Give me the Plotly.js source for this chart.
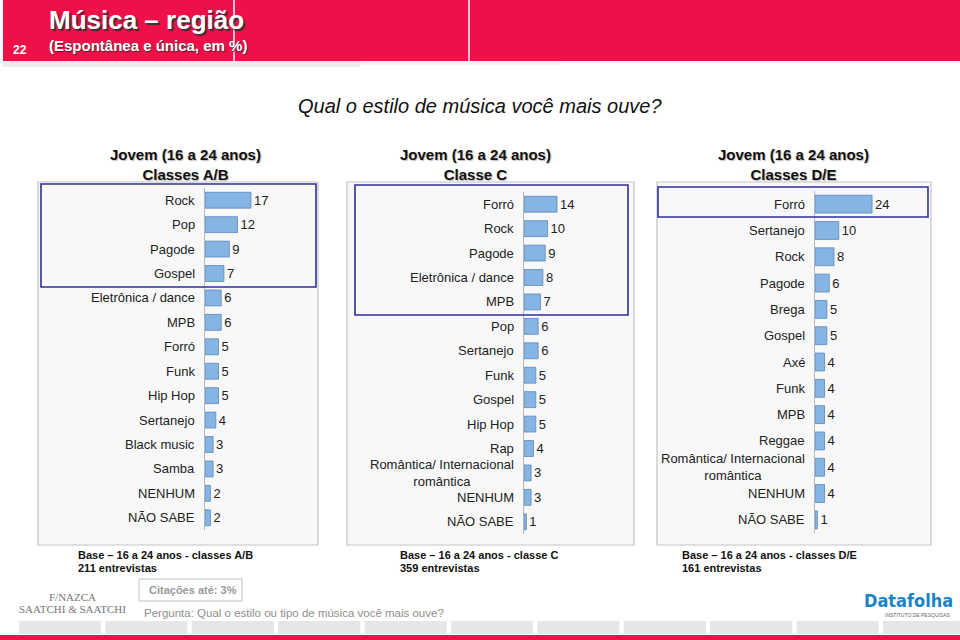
<!DOCTYPE html>
<html>
<head>
<meta charset="utf-8">
<script src="https://cdn.plot.ly/plotly-3.0.1.min.js"></script>
<style>
  html, body { margin: 0; padding: 0; background: #fff; }
  #chart { width: 960px; height: 640px; }
</style>
</head>
<body>
<div id="chart"></div>
<script>
// Classes A/B
const abCats = ['Rock', 'Pop', 'Pagode', 'Gospel', 'Eletrônica / dance', 'MPB', 'Forró', 'Funk',
  'Hip Hop', 'Sertanejo', 'Black music', 'Samba', 'NENHUM', 'NÃO SABE'];
const abVals = [17, 12, 9, 7, 6, 6, 5, 5, 5, 4, 3, 3, 2, 2];

// Classe C
const cCats = ['Forró', 'Rock', 'Pagode', 'Eletrônica / dance', 'MPB', 'Pop', 'Sertanejo', 'Funk',
  'Gospel', 'Hip Hop', 'Rap', 'Romântica/ Internacional<br>romântica', 'NENHUM', 'NÃO SABE'];
const cVals = [14, 10, 9, 8, 7, 6, 6, 5, 5, 5, 4, 3, 3, 1];

// Classes D/E
const deCats = ['Forró', 'Sertanejo', 'Rock', 'Pagode', 'Brega', 'Gospel', 'Axé', 'Funk', 'MPB',
  'Reggae', 'Romântica/ Internacional<br>romântica', 'NENHUM', 'NÃO SABE'];
const deVals = [24, 10, 8, 6, 5, 5, 4, 4, 4, 4, 4, 4, 1];

const panelTitles = ['Classes A/B', 'Classe C', 'Classes D/E'];
const baseLines = [
  ['Base – 16 a 24 anos - classes A/B', '211 entrevistas'],
  ['Base – 16 a 24 anos - classe C', '359 entrevistas'],
  ['Base – 16 a 24 anos - classes D/E', '161 entrevistas'],
];

const W = 960, H = 640;
const FONT = 'Liberation Sans, Arial, sans-serif';
const px = (x) => x / W;
const py = (y) => 1 - y / H;

const panels = [
  { cats: abCats, vals: abVals, ax: '', xdom: [205, 318], ydom: [188, 530], xmax: 41.8, width: 0.65,
    box: [38, 182, 318, 545], hl: [41, 184, 316, 287], titleX: 185, baseX: 76 },
  { cats: cCats, vals: cVals, ax: '2', xdom: [524, 634], ydom: [192, 534], xmax: 46.6, width: 0.65,
    box: [347, 182, 634, 545], hl: [355, 185, 628, 315], titleX: 475, baseX: 398 },
  { cats: deCats, vals: deVals, ax: '3', xdom: [815, 931], ydom: [191, 533], xmax: 48.8, width: 0.68,
    box: [657, 182, 931, 545], hl: [658, 187, 928, 217], titleX: 793, baseX: 680 },
];

const traces = panels.map((p) => ({
  type: 'bar',
  orientation: 'h',
  x: p.vals,
  y: p.cats,
  xaxis: 'x' + p.ax,
  yaxis: 'y' + p.ax,
  width: p.width,
  marker: { color: '#86b5e4', line: { color: '#5a88bd', width: 0.8 } },
  text: p.vals.map(String),
  textposition: 'outside',
  textfont: { family: FONT, size: 13, color: '#222' },
  constraintext: 'none',
  cliponaxis: false,
  hoverinfo: 'skip',
}));

const layout = {
  width: W,
  height: H,
  margin: { l: 0, r: 0, t: 0, b: 0 },
  paper_bgcolor: '#fff',
  plot_bgcolor: 'rgba(0,0,0,0)',
  showlegend: false,
  font: { family: FONT, size: 13, color: '#222' },
  shapes: [],
  annotations: [],
};

panels.forEach((p) => {
  layout['xaxis' + p.ax] = {
    domain: [px(p.xdom[0]), px(p.xdom[1])],
    range: [0, p.xmax],
    anchor: 'y' + p.ax,
    showgrid: false, zeroline: false, showticklabels: false, showline: false, ticks: '',
    fixedrange: true,
  };
  layout['yaxis' + p.ax] = {
    domain: [py(p.ydom[1]), py(p.ydom[0])],
    anchor: 'x' + p.ax,
    type: 'category',
    autorange: 'reversed',
    showgrid: false, zeroline: false, showticklabels: false, ticks: '',
    showline: true, linecolor: '#b8b8b8', linewidth: 1,
    fixedrange: true,
  };

  // panel frame and highlight box
  layout.shapes.push({
    type: 'rect', xref: 'paper', yref: 'paper', layer: 'below',
    x0: px(p.box[0]), x1: px(p.box[2]), y0: py(p.box[3]), y1: py(p.box[1]),
    fillcolor: '#f8f8f8', line: { color: '#c4c4c4', width: 1.2 },
  });
  layout.shapes.push({
    type: 'rect', xref: 'paper', yref: 'paper', layer: 'above',
    x0: px(p.hl[0]), x1: px(p.hl[2]), y0: py(p.hl[3]), y1: py(p.hl[1]),
    line: { color: '#2f2f9c', width: 1.6 },
  });

  // category labels, centred lines like the original
  p.cats.forEach((c) => {
    layout.annotations.push({
      xref: 'x' + p.ax, yref: 'y' + p.ax, x: 0, y: c,
      xanchor: 'right', yanchor: 'middle', xshift: -8,
      text: c, showarrow: false, align: 'center',
      font: { family: FONT, size: 13, color: '#222' },
    });
  });
});

// panel titles and base notes
panels.forEach((p, i) => {
  layout.annotations.push({
    xref: 'paper', yref: 'paper', x: px(p.titleX), y: py(164),
    xanchor: 'center', yanchor: 'middle', showarrow: false,
    text: 'Jovem (16 a 24 anos)<br>' + panelTitles[i],
    font: { family: FONT, size: 15, color: '#111', weight: 'bold', shadow: '1px 1px 1px #bbb' },
  });
  baseLines[i].forEach((line, j) => {
    layout.annotations.push({
      xref: 'paper', yref: 'paper', x: px(p.baseX), y: py(555 + j * 12.5),
      xanchor: 'left', yanchor: 'middle', showarrow: false, text: line,
      font: { family: FONT, size: 11, color: '#111', weight: 'bold' },
    });
  });
});

// header band
layout.shapes.push(
  { type: 'rect', xref: 'paper', yref: 'paper', layer: 'below',
    x0: px(3), x1: 1, y0: py(61), y1: 1, fillcolor: '#ef0f49', line: { width: 0 } },
  { type: 'rect', xref: 'paper', yref: 'paper', layer: 'below',
    x0: px(3), x1: px(360), y0: py(67), y1: py(61), fillcolor: '#ececec', line: { width: 0 } },
  { type: 'rect', xref: 'paper', yref: 'paper', layer: 'below',
    x0: px(360), x1: px(560), y0: py(65), y1: py(61), fillcolor: '#f4f4f4', line: { width: 0 } },
  { type: 'line', xref: 'paper', yref: 'paper', x0: px(234), x1: px(234), y0: py(61), y1: 1,
    line: { color: '#fff', width: 1.5 } },
  { type: 'line', xref: 'paper', yref: 'paper', x0: px(469), x1: px(469), y0: py(61), y1: 1,
    line: { color: '#fff', width: 1.5 } },
  // footer
  { type: 'rect', xref: 'paper', yref: 'paper', layer: 'below',
    x0: 0, x1: 1, y0: 0, y1: py(635), fillcolor: '#ef0f49', line: { width: 0 } },
  { type: 'rect', xref: 'paper', yref: 'paper', layer: 'below',
    x0: px(139), x1: px(242), y0: py(601), y1: py(579), fillcolor: '#fff', line: { color: '#c0c0c0', width: 1 } }
);
for (let bx = 19; bx < W; bx += 86.4) {
  layout.shapes.push({
    type: 'rect', xref: 'paper', yref: 'paper', layer: 'below',
    x0: px(bx), x1: px(Math.min(bx + 82, W)), y0: py(634), y1: py(621),
    fillcolor: '#e6e6e6', line: { width: 0 },
  });
}

layout.annotations.push(
  { xref: 'paper', yref: 'paper', x: px(47), y: py(20), xanchor: 'left', yanchor: 'middle', showarrow: false,
    text: 'Música – região',
    font: { family: FONT, size: 26, color: '#fff', weight: 'bold', shadow: '2px 2px 1px #333' } },
  { xref: 'paper', yref: 'paper', x: px(47), y: py(45), xanchor: 'left', yanchor: 'middle', showarrow: false,
    text: '(Espontânea e única, em %)',
    font: { family: FONT, size: 15, color: '#fff', weight: 'bold', shadow: '1px 1px 1px #333' } },
  { xref: 'paper', yref: 'paper', x: px(11), y: py(50), xanchor: 'left', yanchor: 'middle', showarrow: false,
    text: '22', font: { family: FONT, size: 12, color: '#fff', weight: 'bold' } },
  { xref: 'paper', yref: 'paper', x: 0.5, y: py(106), xanchor: 'center', yanchor: 'middle', showarrow: false,
    text: 'Qual o estilo de música você mais ouve?',
    font: { family: FONT, size: 20, color: '#111', style: 'italic' } },
  { xref: 'paper', yref: 'paper', x: px(147), y: py(590), xanchor: 'left', yanchor: 'middle', showarrow: false,
    text: 'Citações até: 3%', font: { family: FONT, size: 11, color: '#999', weight: 'bold' } },
  { xref: 'paper', yref: 'paper', x: px(142), y: py(613), xanchor: 'left', yanchor: 'middle', showarrow: false,
    text: 'Pergunta: Qual o estilo ou tipo de música você mais ouve?',
    font: { family: FONT, size: 11.5, color: '#8e8e8e' } },
  { xref: 'paper', yref: 'paper', x: px(72), y: py(597), xanchor: 'center', yanchor: 'middle', showarrow: false,
    text: 'F/NAZCA', font: { family: 'Liberation Serif, serif', size: 11, color: '#777' } },
  { xref: 'paper', yref: 'paper', x: px(72), y: py(609), xanchor: 'center', yanchor: 'middle', showarrow: false,
    text: 'SAATCHI &amp; SAATCHI', font: { family: 'Liberation Serif, serif', size: 11, color: '#777' } },
  { xref: 'paper', yref: 'paper', x: px(955), y: py(600), xanchor: 'right', yanchor: 'middle', showarrow: false,
    text: 'Datafolha',
    font: { family: 'DejaVu Sans Condensed, DejaVu Sans, sans-serif', size: 18, color: '#1b84c6', weight: 'bold' } },
  { xref: 'paper', yref: 'paper', x: px(953), y: py(615), xanchor: 'right', yanchor: 'middle', showarrow: false,
    text: 'INSTITUTO DE PESQUISAS', font: { family: FONT, size: 5, color: '#666' } }
);

Plotly.newPlot('chart', traces, layout, { staticPlot: true, displayModeBar: false });
</script>
</body>
</html>
